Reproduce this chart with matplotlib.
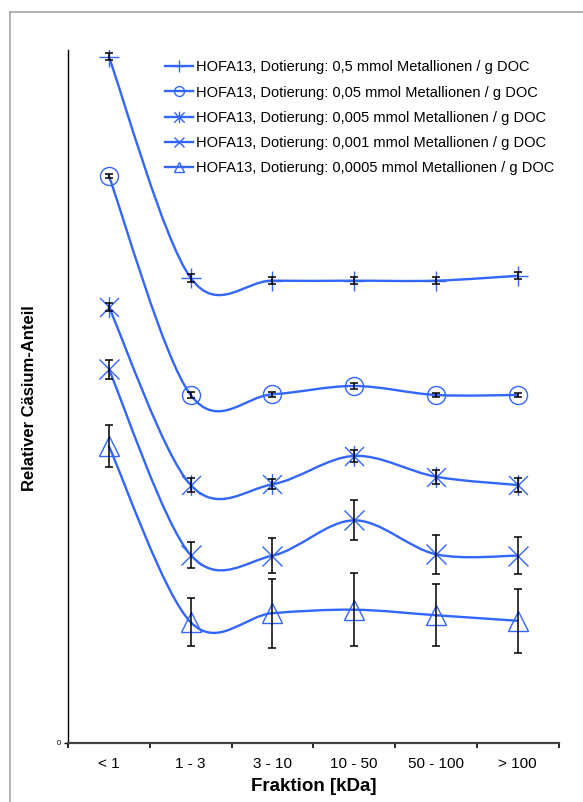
import numpy as np
import matplotlib
matplotlib.use("Agg")
import matplotlib.pyplot as plt
from matplotlib.path import Path
from matplotlib.patches import PathPatch
from matplotlib.lines import Line2D

plt.rcParams['font.family'] = ['Liberation Sans', 'DejaVu Sans']

categories = ["< 1", "1 - 3", "3 - 10", "10 - 50", "50 - 100", "> 100"]

labels = [
    "HOFA13, Dotierung: 0,5 mmol Metallionen / g DOC",
    "HOFA13, Dotierung: 0,05 mmol Metallionen / g DOC",
    "HOFA13, Dotierung: 0,005 mmol Metallionen / g DOC",
    "HOFA13, Dotierung: 0,001 mmol Metallionen / g DOC",
    "HOFA13, Dotierung: 0,0005 mmol Metallionen / g DOC",
]

s1 = [99.0, 67.1, 66.7, 66.7, 66.7, 67.4]
s1_err = [0.5, 0.6, 0.5, 0.5, 0.5, 0.5]
s2 = [81.8, 50.2, 50.3, 51.5, 50.2, 50.2]
s2_err = [0.3, 0.4, 0.35, 0.4, 0.35, 0.35]
s3 = [62.9, 37.2, 37.3, 41.4, 38.4, 37.2]
s3_err = [0.6, 1.0, 0.7, 0.9, 1.0, 1.0]
s4 = [53.9, 27.1, 27.0, 32.1, 27.2, 27.0]
s4_err = [1.4, 1.9, 2.5, 2.9, 2.8, 2.7]
s5 = [42.8, 17.4, 18.7, 19.2, 18.4, 17.6]
s5_err = [3.0, 3.5, 5.0, 5.3, 4.5, 4.6]

series = [s1, s2, s3, s4, s5]
errors = [s1_err, s2_err, s3_err, s4_err, s5_err]

asterisk = Path([(0, -1.1), (0, 1.1), (-1, -1), (1, 1), (-1, 1), (1, -1)],
                [Path.MOVETO, Path.LINETO, Path.MOVETO, Path.LINETO, Path.MOVETO, Path.LINETO])
markers = ['+', 'o', asterisk, 'x', '^']
msizes = [15, 13, 15, 14, 14]
blue = '#3366ff'

W, H = 583, 802
fig = plt.figure(figsize=(W / 100, H / 100), dpi=100)
ax = fig.add_axes([68 / W, 1 - 742.7 / H, (558.6 - 68) / W, (742.7 - 50) / H])

x = np.arange(len(categories), dtype=float)


def smooth_path(xs, ys):
    pts = np.column_stack([xs, ys])
    n = len(pts)
    verts = [pts[0]]
    codes = [Path.MOVETO]
    for i in range(n - 1):
        p0 = pts[i - 1] if i > 0 else pts[i]
        p1 = pts[i]
        p2 = pts[i + 1]
        p3 = pts[i + 2] if i + 2 < n else pts[i + 1]
        c1 = p1 + (p2 - p0) / 6.0
        c2 = p2 - (p3 - p1) / 6.0
        verts += [c1, c2, p2]
        codes += [Path.CURVE4] * 3
    return Path(verts, codes)


handles = []
for ys, err, mk, ms, lab in zip(series, errors, markers, msizes, labels):
    ax.add_patch(PathPatch(smooth_path(x, ys), facecolor='none', edgecolor=blue,
                           lw=1.7, zorder=2, capstyle='round', joinstyle='round'))
    ax.plot(x, ys, linestyle='none', marker=mk, ms=ms, mfc='none', mec=blue,
            mew=1.0, zorder=3)
    ax.errorbar(x, ys, yerr=err, fmt='none', ecolor='black', elinewidth=1.1,
                capsize=2.6, capthick=1.1, zorder=4)
    handles.append(Line2D([], [], color=blue, lw=1.7, marker=mk, ms=ms * 0.55,
                          mfc='none', mec=blue, mew=1.0, label=lab))

ax.set_xlim(-0.5, len(categories) - 0.5)
ax.set_ylim(0, 100)

for s in ['top', 'right']:
    ax.spines[s].set_visible(False)
ax.spines['left'].set_color('black')
ax.spines['left'].set_linewidth(1.0)
ax.spines['bottom'].set_color('#404040')
ax.spines['bottom'].set_linewidth(1.6)

ax.set_xticks(x)
ax.set_xticklabels(categories, fontsize=11)
ax.set_xticks(np.arange(len(categories) + 1) - 0.5, minor=True)
ax.tick_params(axis='x', which='major', length=0, pad=10)
ax.tick_params(axis='x', which='minor', length=3.5, width=1.2, direction='out', color='black')
ax.set_yticks([0])
ax.set_yticklabels(['0'], fontsize=5.5)
ax.tick_params(axis='y', length=3, width=1, direction='out', pad=2)

ax.set_xlabel("Fraktion [kDa]", fontsize=13.5, fontweight='bold', labelpad=5)
fig.text(30 / W, 1 - 398 / H, "Relativer Cäsium-Anteil", rotation=90, fontsize=12,
         fontweight='bold', ha='center', va='center')

leg = ax.legend(handles=handles, loc='upper left', bbox_to_anchor=(165 / W, 1 - 60.5 / H),
                bbox_transform=fig.transFigure, frameon=False, fontsize=10.5,
                borderpad=0, borderaxespad=0, handlelength=1.95, handletextpad=0.15,
                labelspacing=0.76)

# outer chart frame
fig.add_artist(Line2D([10 / W, 10 / W], [0, 1 - 12 / H], transform=fig.transFigure,
                      color='#a6a6a6', lw=1.2))
fig.add_artist(Line2D([10 / W, 1], [1 - 12 / H, 1 - 12 / H], transform=fig.transFigure,
                      color='#a6a6a6', lw=1.2))

fig.savefig("out.png", dpi=100)
